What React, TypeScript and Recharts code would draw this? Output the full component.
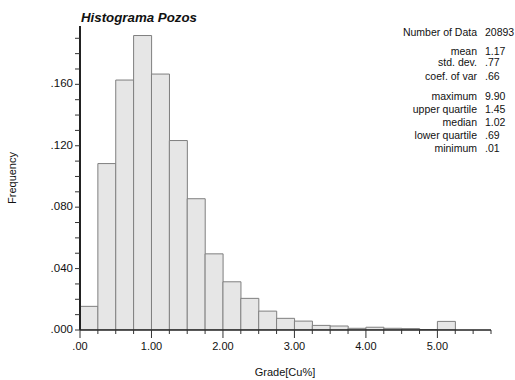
import React from 'react';
import { BarChart, Bar, XAxis, YAxis } from 'recharts';

const binStarts = [0, 0.25, 0.5, 0.75, 1.0, 1.25, 1.5, 1.75, 2.0, 2.25, 2.5, 2.75, 3.0, 3.25, 3.5, 3.75, 4.0, 4.25, 4.5, 4.75, 5.0, 5.25, 5.5];
const frequencies = [0.0154, 0.1084, 0.1628, 0.1918, 0.1667, 0.1234, 0.0855, 0.0496, 0.0314, 0.0206, 0.0123, 0.0076, 0.0058, 0.0030, 0.0026, 0.0011, 0.0018, 0.0011, 0.0009, 0.0003, 0.0056, 0, 0];
const xTicks = [0, 0.25, 0.5, 0.75, 1, 1.25, 1.5, 1.75, 2, 2.25, 2.5, 2.75, 3, 3.25, 3.5, 3.75, 4, 4.25, 4.5, 4.75, 5, 5.25, 5.5, 5.75];
const yTicks = [0, 0.01, 0.02, 0.03, 0.04, 0.05, 0.06, 0.07, 0.08, 0.09, 0.1, 0.11, 0.12, 0.13, 0.14, 0.15, 0.16, 0.17, 0.18, 0.19];
const statLabels = ['Number of Data', 'mean', 'std. dev.', 'coef. of var', 'maximum', 'upper quartile', 'median', 'lower quartile', 'minimum'];
const statValues = ['20893', '1.17', '.77', '.66', '9.90', '1.45', '1.02', '.69', '.01'];
const statY = [36, 55, 65.5, 79.5, 99.5, 112.5, 125.5, 138.5, 152];

const data = binStarts.map((b, i) => ({ bin: b.toFixed(2), x: b, freq: frequencies[i] }));

const FONT = '"Liberation Sans", Arial, sans-serif';

const fmtX = (v: number) => (v === 0 ? '.00' : v.toFixed(2));
const fmtY = (v: number) => '.' + Math.round(v * 1000).toString().padStart(3, '0');

const XTick = (props: any) => {
  const { x, y, payload } = props;
  const v = payload.value as number;
  const major = Math.abs(v - Math.round(v)) < 1e-6;
  return (
    <g>
      <line x1={x} x2={x} y1={y} y2={y + (major ? 8 : 4)} stroke="#333" strokeWidth={1} />
      {major && (
        <text x={x} y={y + 20} textAnchor="middle" fontSize={11} fontFamily={FONT} fill="#111">
          {fmtX(v)}
        </text>
      )}
    </g>
  );
};

const YTick = (props: any) => {
  const { x, y, payload } = props;
  const v = payload.value as number;
  const idx = Math.round(v * 100);
  const labeled = idx % 4 === 0;
  return (
    <g>
      <line x1={x - 5} x2={x} y1={y} y2={y} stroke="#333" strokeWidth={1} />
      {labeled && (
        <text x={x - 7} y={y + 3} textAnchor="end" fontSize={11.5} fontFamily={FONT} fill="#111">
          {fmtY(v)}
        </text>
      )}
    </g>
  );
};

export default function App() {
  return (
    <div style={{ position: 'absolute', left: 0, top: 0, width: 515, height: 380, background: '#fff', overflow: 'hidden' }}>
      <BarChart
        width={515}
        height={380}
        data={data}
        barCategoryGap={0}
        barGap={0}
        margin={{ top: 26, right: 24, left: 30, bottom: 20 }}
      >
        <XAxis xAxisId="cat" dataKey="bin" type="category" hide height={0} />
        <XAxis
          xAxisId="num"
          dataKey="x"
          type="number"
          domain={[0, 5.75]}
          ticks={xTicks}
          interval={0}
          allowDataOverflow
          height={30}
          tickSize={0}
          tickMargin={0}
          tickLine={false}
          tick={<XTick />}
          axisLine={{ stroke: '#222', strokeWidth: 1.5 }}
        />
        <YAxis
          type="number"
          domain={[0, 0.198]}
          ticks={yTicks}
          interval={0}
          allowDataOverflow
          width={50}
          tickSize={0}
          tickMargin={0}
          tickLine={false}
          tick={<YTick />}
          axisLine={{ stroke: '#222', strokeWidth: 2 }}
        />
        <Bar
          xAxisId="cat"
          dataKey="freq"
          fill="#e6e6e6"
          stroke="#7f7f7f"
          strokeWidth={1}
          isAnimationActive={false}
        />
      </BarChart>
      <svg
        width={515}
        height={380}
        style={{ position: 'absolute', left: 0, top: 0, pointerEvents: 'none' }}
      >
        <text x={81} y={22} fontSize={13.3} fontWeight="bold" fontStyle="italic" fontFamily={FONT} fill="#111">
          Histograma Pozos
        </text>
        <text
          x={0}
          y={0}
          transform="translate(16,178) rotate(-90)"
          textAnchor="middle"
          fontSize={11}
          fontFamily={FONT}
          fill="#111"
        >
          Frequency
        </text>
        <text x={285} y={376} textAnchor="middle" fontSize={11} fontFamily={FONT} fill="#111">
          Grade[Cu%]
        </text>
        {statLabels.map((l, i) => (
          <g key={l}>
            <text x={477} y={statY[i]} textAnchor="end" fontSize={10.5} fontFamily={FONT} fill="#111">
              {l}
            </text>
            <text x={485} y={statY[i]} fontSize={10.5} fontFamily={FONT} fill="#111">
              {statValues[i]}
            </text>
          </g>
        ))}
      </svg>
    </div>
  );
}
